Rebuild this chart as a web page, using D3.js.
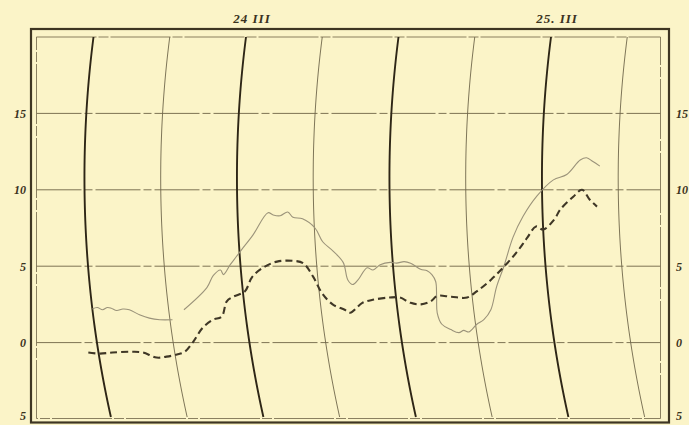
<!DOCTYPE html>
<html>
<head>
<meta charset="utf-8">
<script src="https://cdn.jsdelivr.net/npm/d3@7"></script>
<style>
html,body{margin:0;padding:0;background:#fbf4c8;}
svg{display:block;}
</style>
</head>
<body>
<svg id="chart" width="689" height="425"></svg>
<script>
// ---- data (hours relative to 24 III 0h, temperature in °C) ----
const dayLabels = ["24 III", "25. III"];
const dayHours = [0, 24];
const thickHours = [-12, 0, 12, 24];
const thinHours = [-6, 6, 18, 30];
const yTickValues = [15, 10, 5, 0, -5];
const yTickLabels = ["15", "10", "5", "0", "5"];

const solidSeg1 = [
  [-12.0,2.2],[-11.6,2.3],[-11.2,2.15],[-10.8,2.3],[-10.5,2.25],[-10.1,2.1],
  [-9.6,2.2],[-9.1,2.15],[-8.3,1.8],[-7.6,1.6],[-6.8,1.5],[-5.8,1.5]
];
const solidSeg2 = [
  [-4.8,2.15],[-2.8,3.6],[-2.2,4.4],[-1.6,4.75],[-1.4,4.45],[-0.8,5.1],[-0.3,5.6],
  [0.2,6.1],[1.15,7.05],[2.4,8.5],[2.8,8.35],[3.35,8.3],[3.95,8.55],[4.35,8.2],
  [5.1,8.1],[6.05,7.5],[6.6,6.6],[7.35,6.0],[8.1,5.25],[8.35,4.1],[8.7,3.8],
  [9.15,4.1],[9.95,4.9],[10.4,4.75],[11.0,5.1],[11.8,5.25],[12.3,5.2],[12.9,5.3],
  [13.4,5.2],[14.15,4.8],[14.65,4.7],[15.0,4.45],[15.25,4.0],[15.2,3.0],[15.1,1.95],
  [15.35,1.2],[16.0,0.85],[16.6,0.65],[17.0,0.8],[17.4,0.7],[18.1,1.2],[18.7,1.5],
  [19.35,2.15],[20.0,3.65],[20.7,4.95],[21.6,6.9],[22.45,8.25],[23.6,9.6],
  [24.9,10.65],[25.95,11.0],[27.0,11.95],[27.5,12.1],[28.0,11.85],[28.55,11.55]
];
const dashed = [
  [-12.8,-0.65],[-11.9,-0.72],[-10.9,-0.65],[-9.3,-0.6],[-8.5,-0.65],[-7.5,-0.98],
  [-6.7,-0.92],[-5.85,-0.78],[-5.2,-0.6],[-4.4,0.07],[-3.5,0.98],[-2.6,1.5],
  [-1.9,1.7],[-1.35,2.7],[-0.8,3.0],[0.15,3.35],[0.85,4.3],[1.75,4.9],[2.9,5.3],
  [4.15,5.35],[4.95,5.2],[5.65,4.3],[6.2,3.25],[6.95,2.5],[7.85,2.15],[8.25,1.95],
  [9.3,2.6],[10.15,2.8],[11.5,2.95],[12.3,2.95],[13.1,2.6],[13.9,2.5],[14.7,2.7],
  [15.25,3.05],[16.35,3.0],[17.6,2.95],[18.4,3.35],[19.6,4.1],[20.7,4.95],
  [21.8,5.9],[22.7,6.85],[23.45,7.6],[24.0,7.4],[24.9,8.05],[25.4,8.7],
  [26.45,9.55],[27.15,10.0],[27.75,9.35],[28.3,8.9]
];

// ---- layout ----
const svg = d3.select("#chart");
const inner = {x0: 36.5, x1: 660.5, y0: 37, y1: 418.5};
const x = d3.scaleLinear().domain([0, 24]).range([246, 551]);
const y = d3.scaleLinear().domain([-5, 20]).range([419, 37]);

// recording-paper arcs: pen time lines are circular arcs
const R = 1097, cy = 177.6;
const base = Math.sqrt(R*R - (inner.y0 - cy)*(inner.y0 - cy));
const arcOff = py => base - Math.sqrt(R*R - (py - cy)*(py - cy));
const px = (t, v) => x(t) + arcOff(y(v));

const ink = "#3e3522";
const gridInk = "#7d7353";

// frames
svg.append("rect").attr("x", 31).attr("y", 29).attr("width", 638).attr("height", 393.5)
  .attr("fill", "none").attr("stroke", ink).attr("stroke-width", 2.2);
svg.append("rect").attr("x", inner.x0).attr("y", inner.y0)
  .attr("width", inner.x1 - inner.x0).attr("height", inner.y1 - inner.y0)
  .attr("fill", "none").attr("stroke", gridInk).attr("stroke-width", 0.9)
  .attr("stroke-dasharray", "60,2,10,2");

// horizontal grid
svg.append("g").selectAll("line").data([15, 10, 5, 0]).join("line")
  .attr("x1", inner.x0).attr("x2", inner.x1)
  .attr("y1", d => y(d)).attr("y2", d => y(d))
  .attr("stroke", gridInk).attr("stroke-width", 1)
  .attr("stroke-dasharray", "45,3,8,3");

// time arcs
const arcLine = d3.line().x(d => d[0]).y(d => d[1]).curve(d3.curveLinear);
const arcPts = t => d3.range(inner.y0, inner.y1 + 0.1, 4).map(py => [x(t) + arcOff(py), py]);
svg.append("g").selectAll("path.thin").data(thinHours).join("path")
  .attr("d", t => arcLine(arcPts(t))).attr("fill", "none")
  .attr("stroke", "#6f674b").attr("stroke-width", 0.9);
svg.append("g").selectAll("path.thick").data(thickHours).join("path")
  .attr("d", t => arcLine(arcPts(t))).attr("fill", "none")
  .attr("stroke", "#2e2616").attr("stroke-width", 1.9);

// curves
const curve = d3.line().x(d => px(d[0], d[1])).y(d => y(d[1])).curve(d3.curveCatmullRom.alpha(0.5));
[solidSeg1, solidSeg2].forEach(seg => {
  svg.append("path").attr("d", curve(seg)).attr("fill", "none")
    .attr("stroke", "#9b937a").attr("stroke-width", 1.1);
});
svg.append("path").attr("d", curve(dashed)).attr("fill", "none")
  .attr("stroke", "#3f3726").attr("stroke-width", 2.1)
  .attr("stroke-dasharray", "7,4");

// y labels both sides
const fontFam = "'Liberation Serif', 'DejaVu Serif', serif";
const leftAxis = d3.axisLeft(y).tickValues(yTickValues)
  .tickFormat((d, i) => yTickLabels[i]).tickSize(0).tickPadding(0);
const gl = svg.append("g").attr("transform", "translate(26,0)").call(leftAxis);
const rightAxis = d3.axisRight(y).tickValues(yTickValues)
  .tickFormat((d, i) => yTickLabels[i]).tickSize(0).tickPadding(0);
const gr = svg.append("g").attr("transform", "translate(676,0)").call(rightAxis);
[gl, gr].forEach(g => {
  g.select(".domain").remove();
  g.selectAll("text").attr("font-family", fontFam).attr("font-style", "italic")
    .attr("font-weight", "bold").attr("font-size", 12).attr("fill", "#3a3220");
  // keep the lowest label inside the picture
  g.selectAll(".tick").filter(d => d === -5).select("text").attr("dy", "0.05em");
});

// day labels
svg.append("g").selectAll("text").data(dayHours).join("text")
  .attr("x", d => x(d) + 6).attr("y", 23)
  .attr("text-anchor", "middle")
  .attr("font-family", fontFam).attr("font-style", "italic").attr("font-weight", "bold")
  .attr("font-size", 13).attr("letter-spacing", 1).attr("fill", "#3a3220")
  .text((d, i) => dayLabels[i]);
</script>
</body>
</html>
